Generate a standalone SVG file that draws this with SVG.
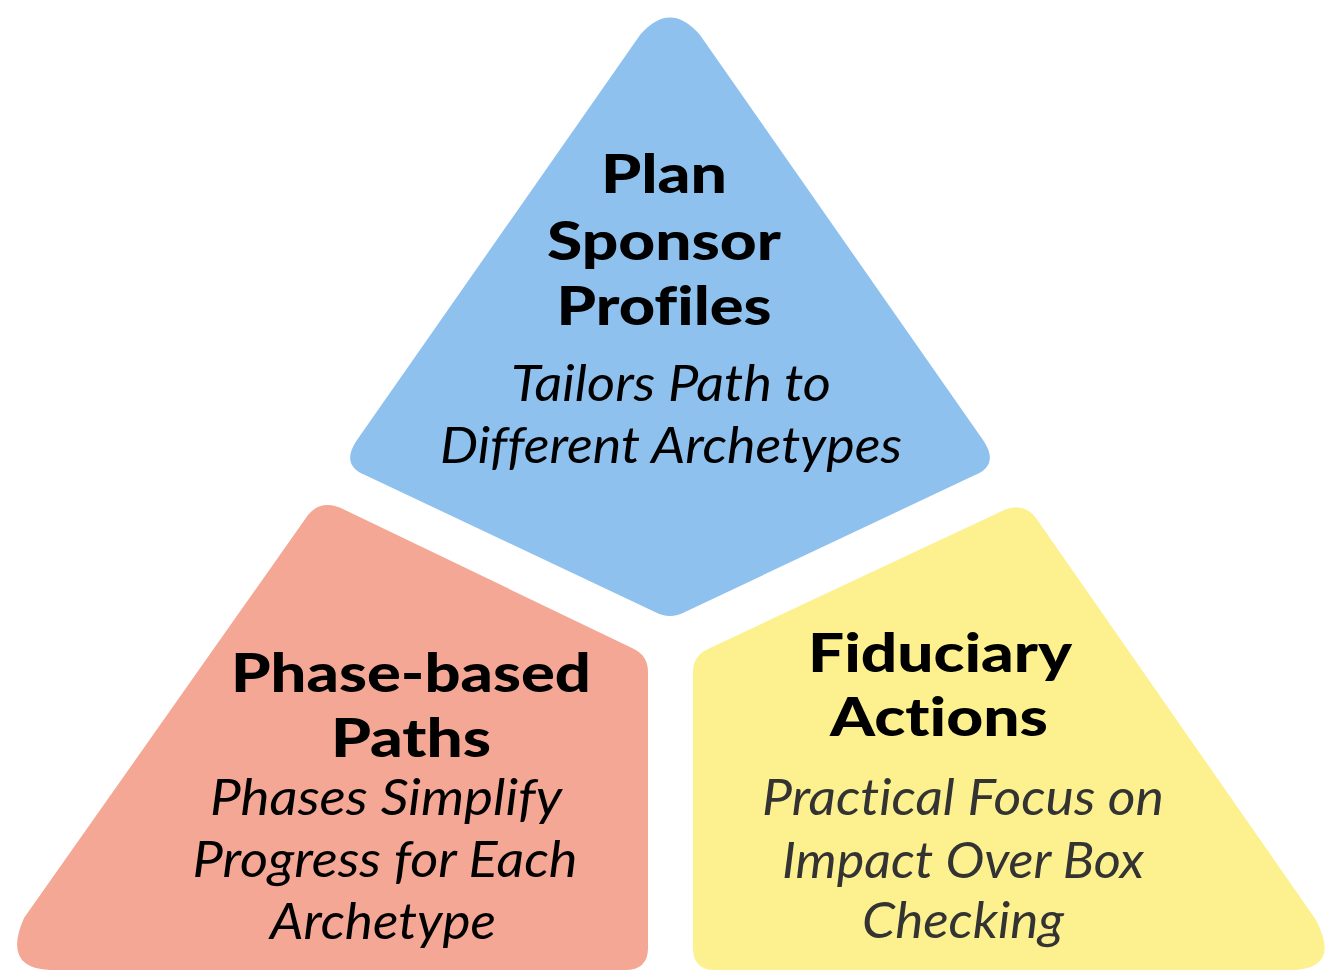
<svg xmlns="http://www.w3.org/2000/svg" width="1344" height="980" viewBox="0 0 1344 980">
<style>
.t{font-family:Lato,"Open Sans","Liberation Sans",sans-serif;font-weight:900;font-size:53px;fill:#000;text-anchor:middle;font-variant-ligatures:none}
.s{font-family:Lato,"Open Sans","Liberation Sans",sans-serif;font-style:italic;font-weight:400;font-size:51px;fill:#000;text-anchor:middle;font-variant-ligatures:none}
.g{fill:#333}
</style>
<rect width="1344" height="980" fill="#fff"/>
<g id="node-plan-sponsor">
<path d="M640,35 Q670,0 700,35 L983,440 Q1000,465 975,475 L685,612 Q670,620 655,612 L365,475 Q340,465 357,440 Z" fill="#8EC1EE"/>
<text class="t" x="664" y="193" textLength="126" lengthAdjust="spacingAndGlyphs">Plan</text>
<text class="t" x="664" y="260" textLength="234" lengthAdjust="spacingAndGlyphs">Sponsor</text>
<text class="t" x="664" y="325" textLength="215" lengthAdjust="spacingAndGlyphs">Profiles</text>
<text class="s" x="671" y="401" textLength="320" lengthAdjust="spacingAndGlyphs">Tailors Path to</text>
<text class="s" x="671" y="463" textLength="462" lengthAdjust="spacingAndGlyphs">Different Archetypes</text>
</g>
<g id="node-phase-based">
<path d="M308,515 Q322,498 345,510 L632,648 Q648,655 648,672 L648,948 Q648,970 625,970 L50,970 Q2,968 24,918 Z" fill="#F3A794"/>
<text class="t" x="411" y="692" textLength="360" lengthAdjust="spacingAndGlyphs">Phase-based</text>
<text class="t" x="411" y="757" textLength="160" lengthAdjust="spacingAndGlyphs">Paths</text>
<text class="s" x="386" y="815" textLength="352" lengthAdjust="spacingAndGlyphs">Phases Simplify</text>
<text class="s" x="385" y="877" textLength="385" lengthAdjust="spacingAndGlyphs">Progress for Each</text>
<text class="s" x="383" y="939" textLength="226" lengthAdjust="spacingAndGlyphs">Archetype</text>
</g>
<g id="node-fiduciary">
<path d="M693,672 Q693,655 710,648 L1000,512 Q1022,500 1036,518 L1316,920 Q1342,970 1290,970 L715,970 Q693,970 693,948 Z" fill="#FDF08F"/>
<text class="t" x="940" y="672" textLength="264" lengthAdjust="spacingAndGlyphs">Fiduciary</text>
<text class="t" x="939" y="736" textLength="218" lengthAdjust="spacingAndGlyphs">Actions</text>
<text class="s g" x="963" y="815" textLength="402" lengthAdjust="spacingAndGlyphs">Practical Focus on</text>
<text class="s g" x="963" y="878" textLength="362" lengthAdjust="spacingAndGlyphs">Impact Over Box</text>
<text class="s g" x="963" y="938" textLength="202" lengthAdjust="spacingAndGlyphs">Checking</text>
</g>
<g id="connectors"></g>
</svg>
